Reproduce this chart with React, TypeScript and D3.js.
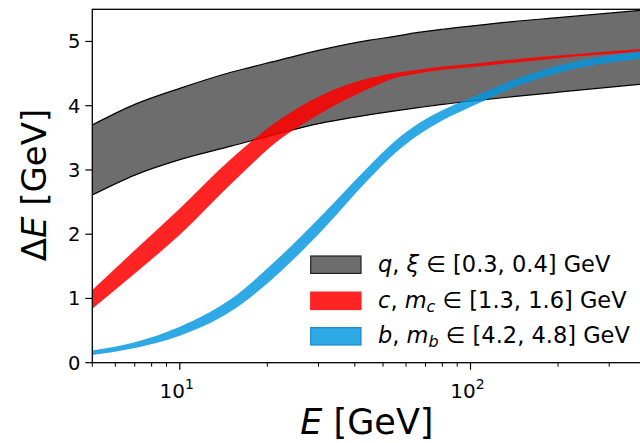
import React from 'react';
import * as d3 from 'd3';

const energies = [5, 7, 10, 15, 22, 30, 45, 55, 66, 80, 100, 140, 200, 400];
const qUpper = [3.70, 4.02, 4.27, 4.52, 4.71, 4.86, 5.02, 5.08, 5.14, 5.19, 5.24, 5.31, 5.37, 5.49];
const qLower = [2.61, 2.92, 3.16, 3.37, 3.57, 3.72, 3.86, 3.92, 3.97, 4.02, 4.07, 4.14, 4.21, 4.34];
const cUpper = [1.13, 1.75, 2.40, 3.17, 3.78, 4.14, 4.43, 4.51, 4.56, 4.61, 4.65, 4.72, 4.78, 4.89];
const cLower = [0.84, 1.39, 1.99, 2.78, 3.47, 3.86, 4.27, 4.43, 4.50, 4.56, 4.60, 4.67, 4.74, 4.84];
const bUpper = [0.19, 0.32, 0.56, 0.99, 1.64, 2.24, 3.07, 3.45, 3.72, 3.93, 4.12, 4.40, 4.62, 4.86];
const bLower = [0.12, 0.23, 0.42, 0.80, 1.40, 2.00, 2.87, 3.26, 3.54, 3.77, 3.98, 4.28, 4.51, 4.74];

const yTicks = [0, 1, 2, 3, 4, 5];
const xMajor = [10, 100];
const xMinor = [5, 6, 7, 8, 9, 20, 30, 40, 50, 60, 70, 80, 90, 200, 300, 400];

const W = 640, H = 443;
const left = 92.3, top = 9.3, bottom = 362.7;
const xRight = 92.3 + 290.7 * Math.log10(80);
const x = d3.scaleLog().domain([5, 400]).range([left, xRight]);
const y = d3.scaleLinear().domain([0, 5.5]).range([bottom, bottom - 64.25 * 5.5]);
const font = 'DejaVu Sans';

function bandPath(up: number[], lo: number[]) {
  const rows = energies.map((e, i) => ({ e, u: up[i], l: lo[i] }));
  const a = d3.area<any>().x(d => x(d.e)).y0(d => y(d.l)).y1(d => y(d.u)).curve(d3.curveMonotoneX);
  return a(rows) || '';
}
function linePath(vals: number[]) {
  const l = d3.line<number>().x((_, i) => x(energies[i])).y(v => y(v)).curve(d3.curveMonotoneX);
  return l(vals) || '';
}

const series = [
  { up: qUpper, lo: qLower, fill: '#6d6d6d', op: 1, edge: '#000' },
  { up: cUpper, lo: cLower, fill: '#ff0000', op: 0.86, edge: 'none' },
  { up: bUpper, lo: bLower, fill: '#0096e0', op: 0.82, edge: 'none' },
];

export default function App() {
  const legendY = [264.7, 300.8, 336.3];
  const legendPatch = [
    { fill: '#6d6d6d', op: 1, stroke: '#222' },
    { fill: '#ff0000', op: 0.86, stroke: '#ff2222' },
    { fill: '#0096e0', op: 0.82, stroke: '#1a8ad8' },
  ];
  const lfs = 22.5;
  return (
    <svg width={W} height={H} style={{ position: 'absolute', left: 0, top: 0, background: '#fff' }} fontFamily={font}>
      <defs>
        <clipPath id="plot"><rect x={left} y={top} width={xRight - left} height={bottom - top} /></clipPath>
      </defs>
      <g clipPath="url(#plot)">
        {series.map((s, i) => (
          <g key={i}>
            <path d={bandPath(s.up, s.lo)} fill={s.fill} fillOpacity={s.op} />
            {s.edge !== 'none' && <path d={linePath(s.up)} fill="none" stroke={s.edge} strokeWidth={1.2} />}
            {s.edge !== 'none' && <path d={linePath(s.lo)} fill="none" stroke={s.edge} strokeWidth={1.2} />}
          </g>
        ))}
      </g>
      <rect x={left} y={top} width={xRight - left} height={bottom - top} fill="none" stroke="#000" strokeWidth={1.3} />
      {yTicks.map(t => (
        <g key={t}>
          <line x1={left - 7} x2={left} y1={y(t)} y2={y(t)} stroke="#000" strokeWidth={1.2} />
          <text x={left - 12} y={y(t) + 7} fontSize={19.5} textAnchor="end">{t}</text>
        </g>
      ))}
      {xMajor.map(t => (
        <g key={t}>
          <line x1={x(t)} x2={x(t)} y1={bottom} y2={bottom + 7} stroke="#000" strokeWidth={1.2} />
          <text x={x(t) - 3} y={398} fontSize={20} textAnchor="middle">
            {'10'}<tspan fontSize={14} dy={-9}>{String(Math.round(Math.log10(t)))}</tspan>
          </text>
        </g>
      ))}
      {xMinor.map(t => (
        <line key={t} x1={x(t)} x2={x(t)} y1={bottom} y2={bottom + 4} stroke="#000" strokeWidth={1} />
      ))}
      <text x={(left + xRight) / 2 - 2} y={434} fontSize={35} textAnchor="middle">
        <tspan fontStyle="italic">E</tspan> [GeV]
      </text>
      <text transform={`translate(46, 185) rotate(-90)`} fontSize={34} textAnchor="middle">
        Δ<tspan fontStyle="italic">E</tspan> [GeV]
      </text>
      {legendY.map((cy, i) => (
        <rect key={i} x={310.7} y={cy - 8.7} width={50.3} height={17.4} fill={legendPatch[i].fill} fillOpacity={legendPatch[i].op} stroke={legendPatch[i].stroke} strokeWidth={1.2} />
      ))}
      <text x={378} y={legendY[0] + 7} fontSize={lfs}>
        <tspan fontStyle="italic">q</tspan>, <tspan fontStyle="italic">ξ</tspan> ∈ [0.3, 0.4] GeV
      </text>
      <text x={378} y={legendY[1] + 7} fontSize={lfs}>
        <tspan fontStyle="italic">c</tspan>, <tspan fontStyle="italic">m</tspan><tspan fontStyle="italic" fontSize={16} dy={4}>c</tspan><tspan dy={-4}> ∈ [1.3, 1.6] GeV</tspan>
      </text>
      <text x={378} y={legendY[2] + 7} fontSize={lfs}>
        <tspan fontStyle="italic">b</tspan>, <tspan fontStyle="italic">m</tspan><tspan fontStyle="italic" fontSize={16} dy={4}>b</tspan><tspan dy={-4}> ∈ [4.2, 4.8] GeV</tspan>
      </text>
    </svg>
  );
}
